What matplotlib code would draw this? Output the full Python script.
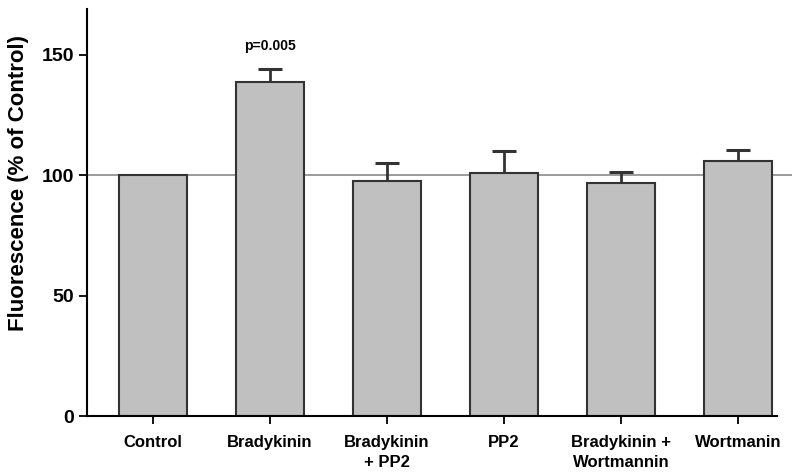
import matplotlib.pyplot as plt
import numpy as np

plt.rcParams["font.family"] = ["Liberation Sans", "DejaVu Sans"]
plt.rcParams["font.weight"] = "bold"

categories = ["Control", "Bradykinin", "Bradykinin\n+ PP2", "PP2",
              "Bradykinin +\nWortmannin", "Wortmanin"]
means = [100, 138.6, 97.6, 101.0, 96.8, 105.8]
errors = [0, 5.7, 7.3, 9.0, 4.4, 4.6]
p_label = "p=0.005"

x = np.arange(len(categories))
means = np.array(means)
errors = np.array(errors)

fig = plt.figure(figsize=(8, 4.76), dpi=100)
ax = fig.add_axes([0.109, 0.126, 0.881, 0.855])

ax.axhline(100, color="#8a8a8a", linewidth=1.2, zorder=1)
ax.bar(x, means, width=0.58, color="#c0c0c0", edgecolor="#333333",
       linewidth=1.5, zorder=2)

# only the upper half of each error bar, as in the original
has_err = errors > 0
tops = means + errors
ax.vlines(x[has_err], means[has_err], tops[has_err], color="#333333",
          linewidth=2, zorder=3)
ax.hlines(tops[has_err], x[has_err] - 0.1, x[has_err] + 0.1,
          color="#333333", linewidth=2.2, zorder=3)

ax.text(x[1], 153.5, p_label, ha="center", va="center", fontsize=10,
        fontweight="bold")

ax.set_xlim(-0.56, 5.46)
ax.set_ylim(0, 169)
ax.set_yticks([0, 50, 100, 150])
ax.set_xticks(x)
ax.set_xticklabels(categories, fontsize=12, fontweight="bold", linespacing=1.4)
ax.tick_params(axis="y", labelsize=14, length=6, width=1.3, direction="out")
ax.tick_params(axis="x", length=6, width=1.3, direction="out", pad=8)
for lab in ax.get_yticklabels():
    lab.set_fontweight("bold")

ax.spines["top"].set_visible(False)
ax.spines["right"].set_visible(False)
ax.spines["left"].set_linewidth(1.5)
ax.spines["bottom"].set_linewidth(1.5)
ax.spines["bottom"].set_bounds(-0.56, 5.33)

ax.set_ylabel("Fluorescence (% of Control)", fontsize=16, fontweight="bold")
ax.yaxis.set_label_coords(-0.082, 0.573)

fig.savefig("out.png", dpi=100)
